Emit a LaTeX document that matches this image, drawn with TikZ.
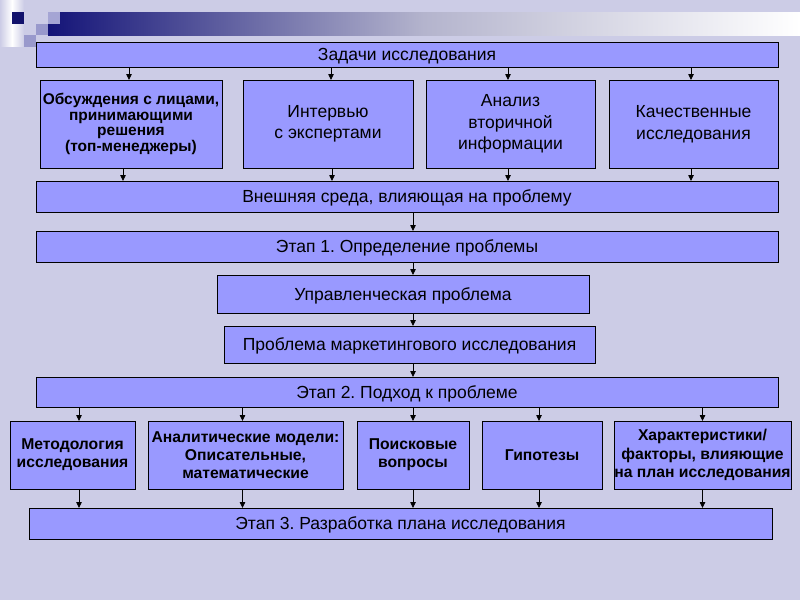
\documentclass[tikz,border=0pt]{standalone}
\usepackage{fontspec}
\setmainfont{Liberation Sans}
\usetikzlibrary{arrows.meta}
\frenchspacing
\definecolor{bgc}{RGB}{204,204,230}
\definecolor{boxc}{RGB}{153,153,255}
\definecolor{navyc}{RGB}{20,20,120}
\definecolor{sqc}{RGB}{153,153,204}
\definecolor{sqlc}{RGB}{165,165,212}
\definecolor{midc}{RGB}{180,180,205}
\newcommand\mybox[7]{\node[#6, minimum width={(#4)-(#2)}, minimum height={(#5)-(#3)}] (#1) at ({((#2)+(#4))/2},{((#3)+(#5))/2}) {#7};}
\newcommand\varr[3]{\draw[arr] (#1.south -| #3,0) -- (#2.north -| #3,0);}
\begin{document}
\begin{tikzpicture}[x=1pt,y=-1pt,
  boxbase/.style={draw=black, line width=0.9pt, fill=boxc, inner sep=0pt, outer sep=0pt, align=center, text=black},
  reg/.style={boxbase, font={\fontsize{17.5}{21.5}\selectfont}},
  regs/.style={reg, text height=12.6pt, text depth=0pt},
  bld/.style={boxbase, font={\fontsize{15.7}{18.3}\selectfont\bfseries}},
  bldt/.style={boxbase, font={\fontsize{15.5}{15.8}\selectfont\bfseries}},
  arr/.style={line width=0.8pt, -{Triangle[length=6pt,width=5.5pt]}}]
\useasboundingbox (0,0) rectangle (800,600);
\fill[bgc] (0,0) rectangle (800,600);
% decoration
\shade[left color=bgc, right color=bgc, middle color=white] (0,0) rectangle (24,46);
\shade[left color=navyc, right color=white, middle color=midc] (48,12) rectangle (800,35);
\fill[sqlc] (48,12) rectangle (60,24);
\fill[navyc!90!black] (12,12) rectangle (24,24);
\fill[sqc] (36,24) rectangle (48,35);
\fill[sqc] (24,35) rectangle (36,47);
% boxes
\mybox{t0}{36}{42}{778}{67}{regs}{Задачи исследования}
\mybox{a}{40}{80}{222}{168}{bldt}{Обсуждения с лицами,\\принимающими\\решения\\(топ-менеджеры)}
\mybox{b}{243}{80}{413}{168}{reg}{Интервью\\с экспертами}
\mybox{c}{426}{80}{595}{168}{reg}{Анализ\\вторичной\\информации}
\mybox{d}{609}{80}{778}{168}{reg}{Качественные\\исследования}
\mybox{env}{36}{181}{778}{212}{regs}{Внешняя среда, влияющая на проблему}
\mybox{s1}{36}{231}{778}{262}{regs}{Этап 1. Определение проблемы}
\mybox{u}{217}{275}{589}{313}{regs}{Управленческая проблема}
\mybox{p}{224}{326}{595}{363}{regs}{Проблема маркетингового исследования}
\mybox{s2}{36}{377}{778}{407}{regs}{Этап 2. Подход к проблеме}
\mybox{m1}{10}{421}{135}{489}{bld}{Методология\\исследования}
\mybox{m2}{148}{421}{343}{489}{bld}{Аналитические модели:\\Описательные,\\математические}
\mybox{m3}{357}{421}{469}{489}{bld}{Поисковые\\вопросы}
\mybox{m4}{482}{421}{602}{489}{bld}{Гипотезы}
\mybox{m5}{614}{421}{791}{489}{bld}{Характеристики/\\факторы, влияющие\\на план исследования}
\mybox{s3}{29}{508}{772}{539}{regs}{Этап 3. Разработка плана исследования}
% arrows
\varr{t0}{a}{129}
\varr{t0}{b}{331}
\varr{t0}{c}{508}
\varr{t0}{d}{691}
\varr{a}{env}{123}
\varr{b}{env}{332}
\varr{c}{env}{508}
\varr{d}{env}{691}
\varr{env}{s1}{413}
\varr{s1}{u}{413}
\varr{u}{p}{413}
\varr{p}{s2}{413}
\varr{s2}{m1}{79}
\varr{s2}{m2}{242.5}
\varr{s2}{m3}{413}
\varr{s2}{m4}{539}
\varr{s2}{m5}{702.5}
\varr{m1}{s3}{79}
\varr{m2}{s3}{242.5}
\varr{m3}{s3}{413}
\varr{m4}{s3}{539}
\varr{m5}{s3}{702.5}
\end{tikzpicture}
\end{document}
